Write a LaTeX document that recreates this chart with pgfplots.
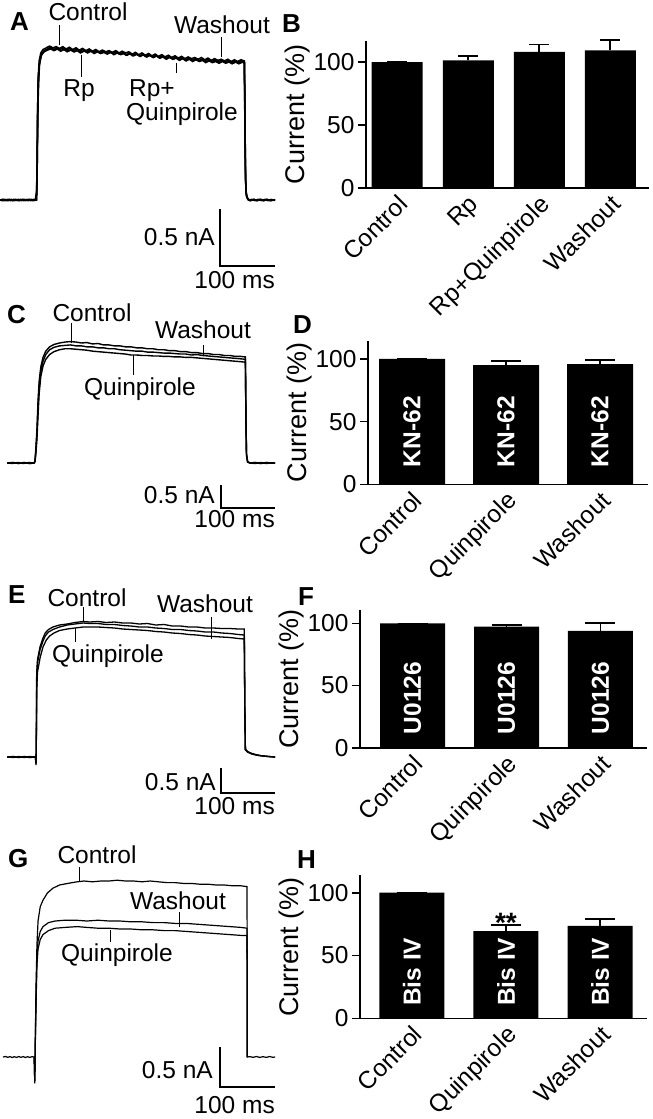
\documentclass[border=0pt]{standalone}
\usepackage{fontspec}
\setmainfont{Liberation Sans}
\usepackage{pgfplots}
\pgfplotsset{compat=1.18}
\newcommand\lab{\fontsize{24.5}{29}\selectfont}
\tikzset{intext/.style={rotate=90, text=white, font=\bfseries\fontsize{24.5}{24.5}\selectfont}}
\pgfplotsset{
 tr/.style={scale only axis, hide axis, anchor=south west, width=275pt,
   xmin=-18.18, xmax=481.82, clip=false},
 barax/.style={scale only axis, anchor=south west,
   axis x line=bottom, axis y line=left,
   axis line style={line width=1.6pt,-},
   ymin=0, ytick={0,50,100}, xtick=data,
   tick align=outside, major tick length=8pt,
   tick style={black, line width=1.6pt},
   xtick style={draw=none},
   ylabel={Current (\%)},
   ylabel style={font=\fontsize{27}{27}\selectfont, inner sep=0pt},
   yticklabel style={font=\fontsize{24.5}{24.5}\selectfont},
   xticklabel style={font=\fontsize{24.5}{24.5}\selectfont, rotate=45, anchor=north east, inner sep=0.5pt, xshift=2pt, yshift=3pt},
   /pgf/number format/assume math mode=true,
   clip=false},
 bars/.style={ybar, fill=black, draw=none, bar shift=0pt,
   error bars/.cd, y dir=plus, y explicit,
   error bar style={black, line width=1.6pt},
   error mark options={black, rotate=90, line width=1.6pt, mark size=#1}},
}
\begin{document}
\begin{tikzpicture}
\path[use as bounding box] (0pt,0pt) rectangle (653pt,-1119pt);

% ---------------- A ----------------
\begin{axis}[tr, at={(0pt,-268.4pt)}, ymin=-0.6, ymax=1.6, height=250.8pt]
\addplot[black, line width=1.5pt] coordinates {(-18,0)(-12,0.006)(-6,-0.005)(0,0.005)(6,-0.006)(12,0.004)(18,-0.005)(24,0.006)(30,-0.004)(36,0.005)(42,-0.005)(48,0)(49,0.2)(50,0.7)(51,1.05)(53,1.22)(56,1.29)(60,1.32)(66,1.335)(72,1.35)(78,1.335)(84,1.345)(90,1.33)(96,1.345)(102,1.325)(108,1.34)(114,1.32)(120,1.335)(126,1.315)(132,1.33)(138,1.31)(144,1.325)(150,1.305)(156,1.32)(162,1.30)(168,1.315)(174,1.30)(180,1.31)(186,1.295)(192,1.31)(198,1.29)(204,1.305)(210,1.29)(216,1.30)(222,1.28)(228,1.295)(234,1.275)(240,1.29)(246,1.27)(252,1.285)(258,1.265)(264,1.28)(270,1.26)(276,1.275)(282,1.255)(288,1.27)(294,1.25)(300,1.265)(306,1.245)(312,1.26)(318,1.24)(324,1.255)(330,1.24)(336,1.25)(342,1.235)(348,1.25)(354,1.23)(360,1.245)(366,1.225)(372,1.24)(378,1.225)(384,1.235)(390,1.22)(396,1.235)(402,1.215)(408,1.23)(414,1.215)(420,1.23)(426,1.22)(427,0.9)(428,0.3)(429,0.08)(431,0.02)(436,-0.005)(442,0.005)(448,-0.006)(454,0.005)(460,-0.005)(466,0.006)(472,-0.004)(482,0.003)};
\addplot[black, line width=1.5pt] coordinates {(-18,0.003)(-15,-0.005)(-9,0.005)(-3,-0.006)(3,0.005)(9,-0.005)(15,0.006)(21,-0.005)(27,0.005)(33,-0.006)(39,0.005)(45,-0.004)(48.5,0)(49.5,0.3)(50.5,0.8)(52,1.1)(54,1.22)(58,1.28)(63,1.31)(69,1.32)(75,1.335)(81,1.315)(87,1.33)(93,1.31)(99,1.325)(105,1.305)(111,1.32)(117,1.30)(123,1.315)(129,1.295)(135,1.31)(141,1.29)(147,1.305)(153,1.285)(159,1.30)(165,1.285)(171,1.295)(177,1.28)(183,1.295)(189,1.275)(195,1.29)(201,1.275)(207,1.285)(213,1.27)(219,1.285)(225,1.265)(231,1.28)(237,1.26)(243,1.275)(249,1.255)(255,1.27)(261,1.25)(267,1.265)(273,1.245)(279,1.26)(285,1.24)(291,1.255)(297,1.235)(303,1.25)(309,1.23)(315,1.245)(321,1.225)(327,1.24)(333,1.22)(339,1.235)(345,1.22)(351,1.23)(357,1.215)(363,1.225)(369,1.21)(375,1.225)(381,1.205)(387,1.22)(393,1.205)(399,1.215)(405,1.20)(411,1.215)(417,1.20)(423,1.21)(426.5,1.205)(427.5,0.6)(428.5,0.15)(430,0.03)(434,0)(439,0.005)(445,-0.005)(451,0.006)(457,-0.005)(463,0.005)(469,-0.006)(475,0.005)(482,-0.003)};
\addplot[black, line width=1.5pt] coordinates {(-18,-0.003)(-14,0.005)(-8,-0.005)(-2,0.006)(4,-0.005)(10,0.005)(16,-0.006)(22,0.005)(28,-0.005)(34,0.006)(40,-0.005)(46,0.004)(49,0.1)(50,0.5)(51.5,0.95)(53.5,1.18)(57,1.27)(62,1.30)(68,1.315)(74,1.325)(80,1.31)(86,1.325)(92,1.305)(98,1.32)(104,1.30)(110,1.315)(116,1.30)(122,1.31)(128,1.29)(134,1.305)(140,1.30)(146,1.315)(152,1.295)(158,1.31)(164,1.29)(170,1.305)(176,1.285)(182,1.30)(188,1.29)(194,1.305)(200,1.28)(206,1.295)(212,1.275)(218,1.29)(224,1.27)(230,1.285)(236,1.26)(242,1.275)(248,1.255)(254,1.27)(260,1.25)(266,1.265)(272,1.245)(278,1.255)(284,1.235)(290,1.25)(296,1.235)(302,1.245)(308,1.225)(314,1.24)(320,1.22)(326,1.235)(332,1.215)(338,1.23)(344,1.215)(350,1.225)(356,1.205)(362,1.22)(368,1.205)(374,1.215)(380,1.20)(386,1.215)(392,1.20)(398,1.21)(404,1.195)(410,1.21)(416,1.195)(422,1.21)(426,1.20)(427,0.8)(428,0.2)(429.5,0.05)(433,0)(438,-0.005)(444,0.005)(450,-0.005)(456,0.006)(462,-0.005)(468,0.005)(474,-0.006)(482,0)};
\addplot[black, line width=1.5pt] coordinates {(-18,0)(-11,-0.006)(-5,0.005)(1,-0.005)(7,0.006)(13,-0.005)(19,0.005)(25,-0.006)(31,0.005)(37,-0.005)(43,0.006)(48,0)(49,0.25)(50,0.75)(51.5,1.08)(53.5,1.2)(57,1.28)(62,1.31)(68,1.325)(73,1.34)(79,1.32)(85,1.335)(91,1.32)(97,1.335)(103,1.315)(109,1.33)(115,1.31)(121,1.325)(127,1.305)(133,1.32)(139,1.30)(145,1.315)(151,1.30)(157,1.31)(163,1.29)(169,1.305)(175,1.285)(181,1.30)(187,1.285)(193,1.295)(199,1.28)(205,1.29)(211,1.27)(217,1.285)(223,1.265)(229,1.28)(235,1.265)(241,1.275)(247,1.26)(253,1.275)(259,1.255)(265,1.27)(271,1.25)(277,1.265)(283,1.245)(289,1.26)(295,1.24)(301,1.255)(307,1.235)(313,1.25)(319,1.23)(325,1.245)(331,1.225)(337,1.24)(343,1.225)(349,1.235)(355,1.22)(361,1.235)(367,1.215)(373,1.23)(379,1.215)(385,1.225)(391,1.21)(397,1.225)(403,1.21)(409,1.22)(415,1.205)(421,1.22)(426,1.21)(427,0.7)(428,0.25)(429.5,0.06)(432,0.01)(437,-0.005)(443,0.006)(449,-0.005)(455,0.005)(461,-0.006)(467,0.005)(473,-0.005)(482,0.003)};
\end{axis}

% ---------------- C ----------------
\begin{axis}[tr, at={(0pt,-472.6pt)}, ymin=-0.2, ymax=2.8, height=144pt]
\addplot[black, line width=1.4pt] coordinates {(-5,0)(5,0.01)(15,-0.01)(25,0.01)(35,-0.01)(44,0)(45.5,0.05)(47,0.3)(49,0.7)(51,1.3)(53,1.7)(56,2.0)(60,2.2)(65,2.33)(72,2.42)(80,2.47)(90,2.5)(100,2.52)(110,2.53)(120,2.52)(130,2.5)(140,2.51)(150,2.48)(160,2.49)(170,2.46)(180,2.46)(190,2.44)(200,2.44)(210,2.42)(220,2.42)(230,2.4)(240,2.4)(250,2.38)(260,2.38)(270,2.36)(280,2.36)(290,2.34)(300,2.34)(310,2.32)(320,2.32)(330,2.3)(340,2.3)(350,2.28)(360,2.28)(370,2.26)(380,2.26)(390,2.24)(400,2.24)(410,2.22)(420,2.22)(428,2.21)(429,1.0)(430,0.2)(432,0.03)(436,0)(445,0.01)(455,-0.01)(465,0.01)(475,0)(482,0)};
\addplot[black, line width=1.4pt] coordinates {(-5,0.005)(4,-0.01)(14,0.01)(24,-0.01)(34,0.01)(44,0)(45.5,0.04)(47,0.25)(49,0.6)(51,1.2)(53,1.6)(56,1.92)(60,2.12)(65,2.26)(72,2.36)(80,2.41)(90,2.44)(100,2.45)(110,2.46)(120,2.44)(130,2.44)(140,2.42)(150,2.42)(160,2.4)(170,2.4)(180,2.38)(190,2.38)(200,2.36)(210,2.35)(220,2.34)(230,2.33)(240,2.33)(250,2.31)(260,2.31)(270,2.3)(280,2.29)(290,2.29)(300,2.28)(310,2.27)(320,2.27)(330,2.25)(340,2.26)(350,2.24)(360,2.23)(370,2.22)(380,2.21)(390,2.2)(400,2.19)(410,2.18)(420,2.17)(428,2.16)(429,0.9)(430,0.18)(432,0.03)(436,0)(446,-0.01)(456,0.01)(466,-0.01)(476,0.005)(482,0)};
\addplot[black, line width=1.4pt] coordinates {(-5,-0.005)(6,0.01)(16,-0.01)(26,0.01)(36,-0.01)(44,0)(45.5,0.03)(47,0.2)(49,0.5)(51,1.0)(53,1.45)(56,1.8)(60,2.02)(65,2.16)(72,2.26)(80,2.32)(90,2.36)(100,2.38)(110,2.38)(120,2.37)(130,2.36)(140,2.35)(150,2.33)(160,2.32)(170,2.31)(180,2.30)(190,2.29)(200,2.28)(210,2.27)(220,2.25)(230,2.25)(240,2.24)(250,2.24)(260,2.23)(270,2.23)(280,2.22)(290,2.22)(300,2.21)(310,2.21)(320,2.2)(330,2.2)(340,2.19)(350,2.18)(360,2.17)(370,2.16)(380,2.15)(390,2.14)(400,2.13)(410,2.12)(420,2.11)(428,2.1)(429,0.8)(430,0.15)(432,0.02)(436,0)(447,0.01)(457,-0.01)(467,0.01)(477,-0.005)(482,0)};
\end{axis}

% ---------------- E ----------------
\begin{axis}[tr, at={(0pt,-772pt)}, ymin=-0.3, ymax=2.9, height=160pt]
\addplot[black, line width=1.3pt] coordinates {(-5,0)(5,0.01)(15,-0.01)(25,0.01)(35,-0.01)(45,0.005)(46.8,0)(47.3,-0.16)(47.8,0.3)(48.5,1.68)(50,1.95)(54.5,2.2)(60,2.38)(64,2.48)(70,2.55)(78,2.6)(90,2.64)(104,2.66)(118,2.69)(133,2.71)(145,2.7)(160,2.71)(175,2.69)(190,2.7)(205,2.68)(220,2.68)(235,2.66)(250,2.67)(265,2.64)(280,2.65)(295,2.62)(310,2.62)(325,2.6)(340,2.6)(355,2.58)(370,2.58)(385,2.57)(400,2.57)(415,2.56)(426,2.56)(427,1.0)(428,0.16)(432,0.11)(440,0.07)(450,0.04)(460,0.02)(470,0.01)(482,0)};
\addplot[black, line width=1.3pt] coordinates {(-5,0.005)(6,-0.01)(16,0.01)(26,-0.01)(36,0.01)(46,0)(47.3,-0.14)(47.8,0.25)(48.6,1.55)(50,1.88)(54.5,2.14)(60,2.32)(64,2.42)(70,2.5)(78,2.55)(90,2.6)(104,2.64)(118,2.66)(133,2.68)(145,2.67)(160,2.67)(175,2.65)(190,2.65)(205,2.63)(220,2.62)(235,2.6)(250,2.6)(265,2.58)(280,2.57)(295,2.55)(310,2.55)(325,2.53)(340,2.52)(355,2.5)(370,2.5)(385,2.48)(400,2.47)(415,2.45)(426,2.44)(427,0.9)(428,0.15)(432,0.1)(440,0.06)(450,0.035)(460,0.02)(470,0.01)(482,0)};
\addplot[black, line width=1.3pt] coordinates {(-5,-0.005)(7,0.01)(17,-0.01)(27,0.01)(37,-0.01)(46,0)(47.3,-0.12)(47.8,0.2)(48.8,1.4)(50,1.7)(55,2.0)(60,2.2)(66,2.34)(72,2.42)(80,2.48)(90,2.53)(104,2.56)(118,2.58)(133,2.6)(145,2.6)(160,2.6)(175,2.59)(190,2.58)(205,2.56)(220,2.55)(235,2.54)(250,2.53)(265,2.51)(280,2.5)(295,2.48)(310,2.47)(325,2.45)(340,2.44)(355,2.42)(370,2.41)(385,2.4)(400,2.39)(415,2.37)(426,2.36)(427,0.85)(428,0.14)(432,0.1)(440,0.06)(450,0.035)(460,0.02)(470,0.01)(482,0)};
\end{axis}

% ---------------- G ----------------
\begin{axis}[tr, at={(0pt,-1089pt)}, ymin=-0.4, ymax=2.4, height=224pt]
\addplot[black, line width=1.2pt] coordinates {(-12.7,0)(-8,0.006)(-4,-0.004)(0,0.005)(4,-0.006)(8,0.004)(12,-0.005)(16,0.006)(20,-0.004)(24,0.005)(28,-0.006)(32,0.004)(36,-0.005)(40,0.004)(44,0)(45,-0.33)(46,0.2)(47.3,0.88)(49,1.4)(51,1.7)(55,1.88)(60,1.96)(68,2.05)(78,2.11)(90,2.15)(105,2.17)(122,2.19)(135,2.2)(150,2.19)(165,2.2)(180,2.2)(195,2.21)(210,2.2)(225,2.2)(240,2.19)(255,2.2)(270,2.19)(285,2.18)(300,2.18)(315,2.17)(330,2.17)(345,2.16)(360,2.16)(375,2.15)(390,2.15)(405,2.14)(420,2.14)(431,2.13)(431.5,0)(436,0.005)(442,-0.004)(448,0.006)(454,-0.005)(460,0.004)(466,-0.005)(472,0.006)(478,-0.004)(482,0)};
\addplot[black, line width=1.2pt] coordinates {(44,0)(45,-0.3)(46,0.2)(47.5,0.8)(49,1.25)(51,1.45)(55,1.57)(60,1.63)(70,1.68)(82,1.7)(100,1.71)(120,1.71)(140,1.7)(160,1.71)(180,1.7)(200,1.7)(220,1.69)(240,1.69)(260,1.68)(280,1.68)(300,1.67)(320,1.67)(340,1.66)(360,1.65)(380,1.64)(400,1.63)(420,1.62)(431,1.61)(431.5,0)};
\addplot[black, line width=1.2pt] coordinates {(44,0)(45,-0.3)(46,0.15)(47.5,0.7)(49,1.15)(51,1.35)(55,1.47)(60,1.53)(70,1.58)(82,1.61)(100,1.62)(122,1.63)(140,1.62)(160,1.61)(180,1.61)(200,1.6)(220,1.6)(240,1.59)(260,1.59)(280,1.58)(300,1.58)(320,1.57)(340,1.56)(360,1.55)(380,1.54)(400,1.53)(420,1.52)(431,1.52)(431.5,0)};
\end{axis}

% ---------------- B ----------------
\begin{axis}[barax, at={(366pt,-188pt)}, xmin=-0.44, xmax=3.54, width=282.6pt,
  ymax=116.7, height=147pt, bar width=51pt,
  xticklabels={Control,Rp,Rp+Quinpirole,Washout}]
\addplot[bars=10pt] table[row sep=\\, x=x, y=y, y error=e] {x y e\\ 0 100 0\\ 1 101.3 3.7\\ 2 108 6\\ 3 109.3 8\\};
\end{axis}

% ---------------- D ----------------
\begin{axis}[barax, at={(368pt,-484.3pt)}, xmin=-0.468, xmax=2.51, width=280pt,
  ymax=114.6, height=143.6pt, bar width=66pt,
  xticklabels={Control,Quinpirole,Washout}]
\addplot[bars=15pt] table[row sep=\\, x=x, y=y, y error=e] {x y e\\ 0 100 0\\ 1 95.2 3.2\\ 2 96 3\\};
\node[intext] at (axis cs:0,42) {KN-62};
\node[intext] at (axis cs:1,42) {KN-62};
\node[intext] at (axis cs:2,42) {KN-62};
\end{axis}

% ---------------- F ----------------
\begin{axis}[barax, at={(360pt,-747.7pt)}, xmin=-0.559, xmax=2.495, width=287pt,
  ymax=110.4, height=137.3pt, bar width=65pt,
  xticklabels={Control,Quinpirole,Washout}]
\addplot[bars=15pt] table[row sep=\\, x=x, y=y, y error=e] {x y e\\ 0 100 0\\ 1 97.3 1.6\\ 2 94 6.5\\};
\node[intext] at (axis cs:0,40) {U0126};
\node[intext] at (axis cs:1,40) {U0126};
\node[intext] at (axis cs:2,40) {U0126};
\end{axis}

% ---------------- H ----------------
\begin{axis}[barax, at={(360pt,-1018.3pt)}, xmin=-0.553, xmax=2.5, width=287pt,
  ymax=113.8, height=142.9pt, bar width=65pt,
  xticklabels={Control,Quinpirole,Washout}]
\addplot[bars=15pt] table[row sep=\\, x=x, y=y, y error=e] {x y e\\ 0 100 0\\ 1 69.5 4.8\\ 2 73.6 5.5\\};
\node[intext] at (axis cs:0,37) {Bis IV};
\node[intext] at (axis cs:1,37) {Bis IV};
\node[intext] at (axis cs:2,37) {Bis IV};
\node[anchor=base, inner sep=0pt, font=\bfseries\fontsize{28}{28}\selectfont] at (axis cs:1,68) {**};
\end{axis}

% ---------------- annotations ----------------
\begin{scope}[x=1pt, y=-1pt, every node/.style={inner sep=0pt}]
\foreach \l/\x/\y in {A/10/30, B/282/32, C/7/323, D/293/333, E/8/603, F/298/605, G/8/867, H/297/868}
  \node[anchor=base west, font=\bfseries\fontsize{26}{26}\selectfont] at (\x,\y) {\l};
% scale bars
\draw[line width=1.6pt] (220,209) -- (220,266) -- (275,266);
\draw[line width=1.6pt] (221,485) -- (221,508) -- (275,508);
\draw[line width=1.6pt] (221,768) -- (221,793) -- (275,793);
\draw[line width=1.6pt] (220,1047) -- (220,1087) -- (275,1087);
\node[anchor=base east, font=\lab] at (215,245) {0.5 nA};
\node[anchor=base east, font=\lab] at (275,288.3) {100 ms};
\node[anchor=base east, font=\lab] at (215,503) {0.5 nA};
\node[anchor=base east, font=\lab] at (275,527) {100 ms};
\node[anchor=base east, font=\lab] at (216,790) {0.5 nA};
\node[anchor=base east, font=\lab] at (275,814) {100 ms};
\node[anchor=base east, font=\lab] at (213,1078) {0.5 nA};
\node[anchor=base east, font=\lab] at (275,1113) {100 ms};
% pointer lines
\draw[line width=1pt] (59,25)--(59,45) (81,55)--(81,77) (176,63)--(176,73) (221,37)--(221,57);
\draw[line width=1pt] (71,323)--(71,343) (203,345)--(203,355) (133,355)--(133,375);
\draw[line width=1pt] (83,607)--(83,622) (211,617)--(211,639) (75,628)--(75,642);
\draw[line width=1pt] (79,867)--(79,882) (179,912)--(179,927) (110,930)--(110,942);
% trace labels
\node[anchor=base, font=\lab] at (88,20.7) {Control};
\node[anchor=base, font=\lab] at (222,33) {Washout};
\node[anchor=base, font=\lab] at (79,96.7) {Rp};
\node[anchor=base, font=\lab] at (152,96.7) {Rp+};
\node[anchor=base, font=\lab] at (182,120.7) {Quinpirole};
\node[anchor=base, font=\lab] at (92,321.7) {Control};
\node[anchor=base, font=\lab] at (203,338.3) {Washout};
\node[anchor=base, font=\lab] at (140,395) {Quinpirole};
\node[anchor=base, font=\lab] at (87,606.7) {Control};
\node[anchor=base, font=\lab] at (205,612.7) {Washout};
\node[anchor=base, font=\lab] at (108,662.7) {Quinpirole};
\node[anchor=base, font=\lab] at (97,863.3) {Control};
\node[anchor=base, font=\lab] at (178,909) {Washout};
\node[anchor=base, font=\lab] at (117,961.7) {Quinpirole};
\end{scope}
\end{tikzpicture}
\end{document}
